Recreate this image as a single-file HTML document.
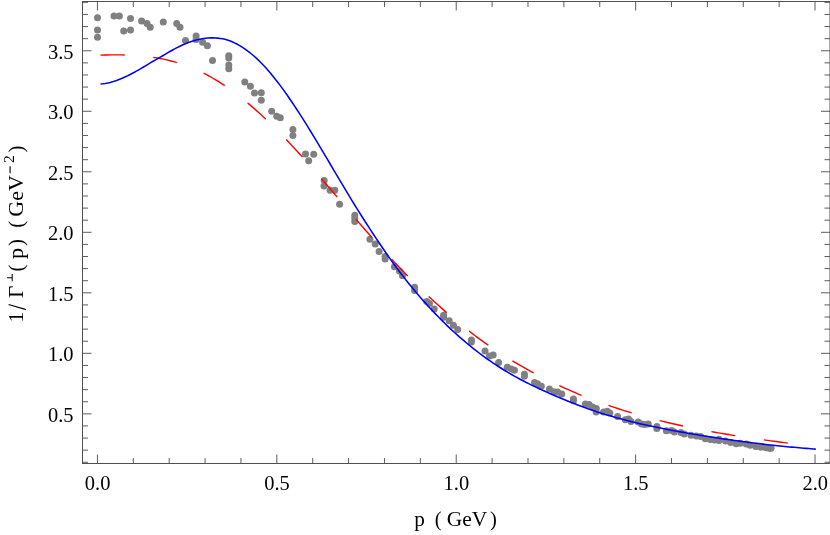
<!DOCTYPE html><html><head><meta charset="utf-8"><title>plot</title><style>html,body{margin:0;padding:0;background:#fff}svg{display:block;will-change:transform}text{font-family:"Liberation Serif",serif;fill:#000}</style></head><body>
<svg width="830" height="535" viewBox="0 0 830 535">
<rect width="830" height="535" fill="#fff"/>
<g fill="#808080">
<circle cx="97.5" cy="17.7" r="3.5"/>
<circle cx="97.5" cy="29.9" r="3.5"/>
<circle cx="97.5" cy="37.3" r="3.5"/>
<circle cx="114.0" cy="16.0" r="3.5"/>
<circle cx="119.4" cy="16.0" r="3.5"/>
<circle cx="123.7" cy="30.9" r="3.5"/>
<circle cx="130.5" cy="30.0" r="3.5"/>
<circle cx="130.5" cy="18.5" r="3.5"/>
<circle cx="141.6" cy="21.1" r="3.5"/>
<circle cx="147.0" cy="23.6" r="3.5"/>
<circle cx="150.2" cy="27.3" r="3.5"/>
<circle cx="163.3" cy="22.0" r="3.5"/>
<circle cx="176.7" cy="23.4" r="3.5"/>
<circle cx="180.0" cy="27.2" r="3.5"/>
<circle cx="185.5" cy="40.4" r="3.5"/>
<circle cx="196.1" cy="36.0" r="3.5"/>
<circle cx="196.1" cy="39.6" r="3.5"/>
<circle cx="202.6" cy="42.3" r="3.5"/>
<circle cx="207.4" cy="45.7" r="3.5"/>
<circle cx="212.5" cy="60.5" r="3.5"/>
<circle cx="228.8" cy="55.7" r="3.5"/>
<circle cx="228.8" cy="58.0" r="3.5"/>
<circle cx="228.8" cy="65.0" r="3.5"/>
<circle cx="228.8" cy="68.7" r="3.5"/>
<circle cx="244.8" cy="82.1" r="3.5"/>
<circle cx="250.4" cy="86.2" r="3.5"/>
<circle cx="254.5" cy="93.0" r="3.5"/>
<circle cx="261.3" cy="92.8" r="3.5"/>
<circle cx="261.3" cy="100.3" r="3.5"/>
<circle cx="271.7" cy="111.2" r="3.5"/>
<circle cx="276.8" cy="116.3" r="3.5"/>
<circle cx="280.3" cy="117.7" r="3.5"/>
<circle cx="292.9" cy="129.4" r="3.5"/>
<circle cx="292.9" cy="135.5" r="3.5"/>
<circle cx="305.5" cy="153.9" r="3.5"/>
<circle cx="313.7" cy="154.3" r="3.5"/>
<circle cx="308.7" cy="160.8" r="3.5"/>
<circle cx="324.2" cy="180.6" r="3.5"/>
<circle cx="324.0" cy="186.1" r="3.5"/>
<circle cx="330.1" cy="190.3" r="3.5"/>
<circle cx="334.8" cy="190.3" r="3.5"/>
<circle cx="339.6" cy="204.2" r="3.5"/>
<circle cx="354.8" cy="215.2" r="3.5"/>
<circle cx="354.8" cy="218.3" r="3.5"/>
<circle cx="354.8" cy="221.5" r="3.5"/>
<circle cx="369.9" cy="239.2" r="3.5"/>
<circle cx="375.2" cy="243.9" r="3.5"/>
<circle cx="379.1" cy="251.4" r="3.5"/>
<circle cx="385.1" cy="256.5" r="3.5"/>
<circle cx="385.1" cy="259.0" r="3.5"/>
<circle cx="394.4" cy="266.7" r="3.5"/>
<circle cx="399.5" cy="271.0" r="3.5"/>
<circle cx="402.5" cy="275.8" r="3.5"/>
<circle cx="414.6" cy="287.3" r="3.5"/>
<circle cx="414.6" cy="290.5" r="3.5"/>
<circle cx="426.8" cy="301.6" r="3.5"/>
<circle cx="429.5" cy="303.4" r="3.5"/>
<circle cx="434.2" cy="308.9" r="3.5"/>
<circle cx="443.6" cy="315.2" r="3.5"/>
<circle cx="443.6" cy="317.2" r="3.5"/>
<circle cx="449.2" cy="320.7" r="3.5"/>
<circle cx="453.4" cy="325.3" r="3.5"/>
<circle cx="457.7" cy="329.5" r="3.5"/>
<circle cx="471.4" cy="340.0" r="3.5"/>
<circle cx="471.4" cy="341.9" r="3.5"/>
<circle cx="485.0" cy="351.1" r="3.5"/>
<circle cx="489.5" cy="356.1" r="3.5"/>
<circle cx="493.2" cy="355.0" r="3.5"/>
<circle cx="498.6" cy="362.5" r="3.5"/>
<circle cx="507.2" cy="367.2" r="3.5"/>
<circle cx="511.3" cy="368.9" r="3.5"/>
<circle cx="514.5" cy="370.3" r="3.5"/>
<circle cx="524.4" cy="374.2" r="3.5"/>
<circle cx="524.4" cy="376.3" r="3.5"/>
<circle cx="534.5" cy="382.4" r="3.5"/>
<circle cx="537.5" cy="383.7" r="3.5"/>
<circle cx="541.3" cy="386.2" r="3.5"/>
<circle cx="549.4" cy="389.1" r="3.5"/>
<circle cx="553.9" cy="391.7" r="3.5"/>
<circle cx="557.6" cy="392.0" r="3.5"/>
<circle cx="561.8" cy="393.9" r="3.5"/>
<circle cx="573.4" cy="399.0" r="3.5"/>
<circle cx="573.4" cy="400.8" r="3.5"/>
<circle cx="585.4" cy="404.1" r="3.5"/>
<circle cx="589.1" cy="404.6" r="3.5"/>
<circle cx="592.5" cy="407.1" r="3.5"/>
<circle cx="596.3" cy="408.4" r="3.5"/>
<circle cx="596.1" cy="412.1" r="3.5"/>
<circle cx="603.5" cy="412.1" r="3.5"/>
<circle cx="607.3" cy="411.3" r="3.5"/>
<circle cx="609.8" cy="413.0" r="3.5"/>
<circle cx="617.6" cy="416.4" r="3.5"/>
<circle cx="625.3" cy="419.7" r="3.5"/>
<circle cx="628.5" cy="419.0" r="3.5"/>
<circle cx="631.0" cy="421.6" r="3.5"/>
<circle cx="638.2" cy="422.0" r="3.5"/>
<circle cx="641.6" cy="424.1" r="3.5"/>
<circle cx="644.9" cy="424.5" r="3.5"/>
<circle cx="648.3" cy="424.1" r="3.5"/>
<circle cx="656.9" cy="426.5" r="3.5"/>
<circle cx="656.9" cy="428.5" r="3.5"/>
<circle cx="666.4" cy="430.8" r="3.5"/>
<circle cx="671.5" cy="430.4" r="3.5"/>
<circle cx="674.4" cy="432.1" r="3.5"/>
<circle cx="680.9" cy="432.6" r="3.5"/>
<circle cx="684.3" cy="434.1" r="3.5"/>
<circle cx="691.0" cy="435.3" r="3.5"/>
<circle cx="696.4" cy="436.1" r="3.5"/>
<circle cx="700.7" cy="436.6" r="3.5"/>
<circle cx="705.3" cy="438.7" r="3.5"/>
<circle cx="710.4" cy="439.5" r="3.5"/>
<circle cx="714.6" cy="439.9" r="3.5"/>
<circle cx="719.0" cy="439.2" r="3.5"/>
<circle cx="719.0" cy="440.6" r="3.5"/>
<circle cx="725.5" cy="440.9" r="3.5"/>
<circle cx="730.6" cy="442.5" r="3.5"/>
<circle cx="736.1" cy="443.7" r="3.5"/>
<circle cx="740.3" cy="443.3" r="3.5"/>
<circle cx="746.2" cy="444.1" r="3.5"/>
<circle cx="750.2" cy="445.3" r="3.5"/>
<circle cx="755.9" cy="446.5" r="3.5"/>
<circle cx="761.0" cy="447.2" r="3.5"/>
<circle cx="766.0" cy="447.8" r="3.5"/>
<circle cx="769.4" cy="448.2" r="3.5"/>
<circle cx="771.1" cy="448.2" r="3.5"/>
</g>
<g fill="none" stroke="#ff0000" stroke-width="1.4">
<path d="M100.50 55.15 L103.96 55.04 L107.41 54.96 L110.87 54.90 L114.33 54.87 L117.79 54.88 L121.24 54.91 L124.70 54.99"/>
<path d="M153.20 57.38 L156.59 57.92 L159.97 58.52 L163.36 59.18 L166.74 59.92 L170.13 60.73 L173.51 61.61 L176.90 62.56"/>
<path d="M203.60 73.09 L206.61 74.65 L209.63 76.28 L212.64 77.99 L215.66 79.78 L218.67 81.63 L221.69 83.56 L224.70 85.56"/>
<path d="M247.60 102.93 L250.20 105.12 L252.80 107.36 L255.40 109.64 L258.00 111.96 L260.60 114.33 L263.20 116.73 L265.80 119.16"/>
<path d="M286.20 139.50 L288.53 141.95 L290.86 144.42 L293.19 146.91 L295.51 149.43 L297.84 151.97 L300.17 154.52 L302.50 157.10"/>
<path d="M321.50 178.74 L323.73 181.33 L325.96 183.93 L328.19 186.54 L330.41 189.15 L332.64 191.77 L334.87 194.39 L337.10 197.01"/>
<path d="M356.00 219.21 L358.26 221.84 L360.51 224.46 L362.77 227.07 L365.03 229.67 L367.29 232.25 L369.54 234.83 L371.80 237.38"/>
<path d="M391.60 259.16 L393.91 261.63 L396.23 264.07 L398.54 266.50 L400.86 268.91 L403.17 271.31 L405.49 273.68 L407.80 276.04"/>
<path d="M428.70 296.44 L431.26 298.83 L433.81 301.19 L436.37 303.52 L438.93 305.83 L441.49 308.12 L444.04 310.38 L446.60 312.61"/>
<path d="M469.00 331.03 L471.77 333.16 L474.54 335.25 L477.31 337.32 L480.09 339.35 L482.86 341.35 L485.63 343.32 L488.40 345.26"/>
<path d="M512.40 360.83 L515.44 362.66 L518.49 364.45 L521.53 366.21 L524.57 367.94 L527.61 369.64 L530.66 371.31 L533.70 372.96"/>
<path d="M559.30 385.68 L562.49 387.14 L565.67 388.57 L568.86 389.97 L572.04 391.35 L575.23 392.71 L578.41 394.04 L581.60 395.34"/>
<path d="M608.50 405.43 L611.81 406.57 L615.13 407.68 L618.44 408.77 L621.76 409.83 L625.07 410.88 L628.39 411.90 L631.70 412.90"/>
<path d="M659.70 420.58 L663.01 421.40 L666.33 422.20 L669.64 422.99 L672.96 423.76 L676.27 424.51 L679.59 425.25 L682.90 425.98"/>
<path d="M711.40 431.62 L714.80 432.23 L718.20 432.83 L721.60 433.42 L725.00 433.99 L728.40 434.56 L731.80 435.11 L735.20 435.66"/>
<path d="M763.90 439.90 L767.31 440.37 L770.73 440.84 L774.14 441.30 L777.56 441.75 L780.97 442.20 L784.39 442.65 L787.80 443.09"/>
</g>
<path d="M100.50 83.93 L102.89 83.72 L105.28 83.40 L107.68 82.99 L110.07 82.49 L112.46 81.87 L114.85 81.10 L117.25 80.24 L119.64 79.31 L122.03 78.32 L124.42 77.26 L126.82 76.14 L129.21 74.96 L131.60 73.74 L133.99 72.48 L136.38 71.17 L138.78 69.81 L141.17 68.41 L143.56 66.99 L145.95 65.55 L148.35 64.09 L150.74 62.65 L153.13 61.26 L155.52 59.87 L157.92 58.49 L160.31 57.12 L162.70 55.73 L165.09 54.31 L167.48 52.91 L169.88 51.54 L172.27 50.20 L174.66 48.91 L177.05 47.65 L179.45 46.45 L181.84 45.31 L184.23 44.22 L186.62 43.24 L189.02 42.34 L191.41 41.52 L193.80 40.78 L196.19 40.08 L198.58 39.46 L200.98 38.93 L203.37 38.51 L205.76 38.18 L208.15 37.97 L210.55 37.87 L212.94 37.84 L215.33 37.92 L217.72 38.11 L220.12 38.41 L222.51 38.79 L224.90 39.30 L227.29 39.93 L229.68 40.79 L232.08 41.76 L234.47 42.85 L236.86 44.06 L239.25 45.38 L241.65 46.82 L244.04 48.38 L246.43 50.05 L248.82 51.84 L251.22 53.74 L253.61 55.76 L256.00 57.90 L258.39 60.15 L260.78 62.51 L263.18 64.99 L265.57 67.57 L267.96 70.26 L270.35 73.05 L272.75 75.94 L275.14 78.91 L277.53 81.98 L279.92 85.13 L282.32 88.36 L284.71 91.66 L287.10 95.04 L289.49 98.48 L291.88 102.00 L294.28 105.57 L296.67 109.20 L299.06 112.88 L301.45 116.61 L303.85 120.39 L306.24 124.21 L308.63 128.08 L311.02 131.97 L313.42 135.90 L315.81 139.86 L318.20 143.84 L320.59 147.84 L322.98 151.86 L325.38 155.89 L327.77 159.94 L330.16 163.99 L332.55 168.04 L334.95 172.09 L337.34 176.13 L339.73 180.17 L342.12 184.19 L344.52 188.20 L346.91 192.19 L349.30 196.15 L351.69 200.09 L354.08 204.00 L356.48 207.87 L358.87 211.71 L361.26 215.50 L363.65 219.27 L366.05 223.00 L368.44 226.70 L370.83 230.37 L373.22 234.02 L375.62 237.64 L378.01 241.23 L380.40 244.79 L382.79 248.31 L385.18 251.80 L387.58 255.24 L389.97 258.63 L392.36 261.97 L394.75 265.26 L397.15 268.49 L399.54 271.67 L401.93 274.81 L404.32 277.89 L406.72 280.93 L409.11 283.91 L411.50 286.85 L413.89 289.75 L416.28 292.60 L418.68 295.40 L421.07 298.16 L423.46 300.88 L425.85 303.56 L428.25 306.19 L430.64 308.79 L433.03 311.34 L435.42 313.85 L437.82 316.32 L440.21 318.76 L442.60 321.15 L444.99 323.50 L447.38 325.82 L449.78 328.09 L452.17 330.33 L454.56 332.53 L456.95 334.69 L459.35 336.82 L461.74 338.90 L464.13 340.96 L466.52 342.97 L468.92 344.95 L471.31 346.89 L473.70 348.80 L476.09 350.67 L478.48 352.51 L480.88 354.31 L483.27 356.08 L485.66 357.81 L488.05 359.51 L490.45 361.18 L492.84 362.82 L495.23 364.42 L497.62 365.99 L500.02 367.52 L502.41 369.03 L504.80 370.50 L507.19 371.95 L509.58 373.36 L511.98 374.74 L514.37 376.09 L516.76 377.42 L519.15 378.72 L521.55 379.99 L523.94 381.24 L526.33 382.47 L528.72 383.67 L531.12 384.85 L533.51 386.02 L535.90 387.16 L538.29 388.28 L540.68 389.39 L543.08 390.49 L545.47 391.56 L547.86 392.63 L550.25 393.68 L552.65 394.72 L555.04 395.75 L557.43 396.77 L559.82 397.78 L562.22 398.77 L564.61 399.76 L567.00 400.74 L569.39 401.70 L571.78 402.65 L574.18 403.59 L576.57 404.52 L578.96 405.43 L581.35 406.33 L583.75 407.21 L586.14 408.07 L588.53 408.92 L590.92 409.76 L593.32 410.57 L595.71 411.38 L598.10 412.16 L600.49 412.93 L602.88 413.69 L605.28 414.43 L607.67 415.15 L610.06 415.86 L612.45 416.56 L614.85 417.24 L617.24 417.91 L619.63 418.57 L622.02 419.22 L624.42 419.85 L626.81 420.47 L629.20 421.08 L631.59 421.68 L633.98 422.26 L636.38 422.84 L638.77 423.40 L641.16 423.96 L643.55 424.50 L645.95 425.04 L648.34 425.57 L650.73 426.08 L653.12 426.59 L655.52 427.09 L657.91 427.58 L660.30 428.07 L662.69 428.55 L665.08 429.02 L667.48 429.48 L669.87 429.94 L672.26 430.39 L674.65 430.83 L677.05 431.27 L679.44 431.70 L681.83 432.13 L684.22 432.56 L686.62 432.98 L689.01 433.39 L691.40 433.80 L693.79 434.21 L696.18 434.61 L698.58 435.01 L700.97 435.41 L703.36 435.80 L705.75 436.18 L708.15 436.56 L710.54 436.94 L712.93 437.31 L715.32 437.68 L717.72 438.04 L720.11 438.40 L722.50 438.76 L724.89 439.11 L727.28 439.46 L729.68 439.80 L732.07 440.14 L734.46 440.47 L736.85 440.80 L739.25 441.12 L741.64 441.44 L744.03 441.76 L746.42 442.07 L748.82 442.38 L751.21 442.68 L753.60 442.98 L755.99 443.27 L758.38 443.56 L760.78 443.84 L763.17 444.12 L765.56 444.40 L767.95 444.67 L770.35 444.93 L772.74 445.19 L775.13 445.45 L777.52 445.70 L779.92 445.95 L782.31 446.19 L784.70 446.43 L787.09 446.67 L789.48 446.90 L791.88 447.12 L794.27 447.34 L796.66 447.56 L799.05 447.77 L801.45 447.97 L803.84 448.17 L806.23 448.37 L808.62 448.56 L811.02 448.75 L813.41 448.93 L815.80 449.11" fill="none" stroke="#0000ff" stroke-width="1.55"/>
<path d="M97.43 463.50 V454.50 M97.43 1.50 V10.50 M133.31 463.50 V458.00 M133.31 1.50 V7.00 M169.19 463.50 V458.00 M169.19 1.50 V7.00 M205.07 463.50 V458.00 M205.07 1.50 V7.00 M240.95 463.50 V458.00 M240.95 1.50 V7.00 M276.83 463.50 V454.50 M276.83 1.50 V10.50 M312.71 463.50 V458.00 M312.71 1.50 V7.00 M348.59 463.50 V458.00 M348.59 1.50 V7.00 M384.47 463.50 V458.00 M384.47 1.50 V7.00 M420.35 463.50 V458.00 M420.35 1.50 V7.00 M456.23 463.50 V454.50 M456.23 1.50 V10.50 M492.11 463.50 V458.00 M492.11 1.50 V7.00 M527.99 463.50 V458.00 M527.99 1.50 V7.00 M563.87 463.50 V458.00 M563.87 1.50 V7.00 M599.75 463.50 V458.00 M599.75 1.50 V7.00 M635.63 463.50 V454.50 M635.63 1.50 V10.50 M671.51 463.50 V458.00 M671.51 1.50 V7.00 M707.39 463.50 V458.00 M707.39 1.50 V7.00 M743.27 463.50 V458.00 M743.27 1.50 V7.00 M779.15 463.50 V458.00 M779.15 1.50 V7.00 M815.03 463.50 V454.50 M815.03 1.50 V10.50 M82.50 462.26 H88.00 M830.00 462.26 H824.50 M82.50 450.16 H88.00 M830.00 450.16 H824.50 M82.50 438.06 H88.00 M830.00 438.06 H824.50 M82.50 425.95 H88.00 M830.00 425.95 H824.50 M82.50 413.85 H91.50 M830.00 413.85 H821.00 M82.50 401.75 H88.00 M830.00 401.75 H824.50 M82.50 389.64 H88.00 M830.00 389.64 H824.50 M82.50 377.54 H88.00 M830.00 377.54 H824.50 M82.50 365.44 H88.00 M830.00 365.44 H824.50 M82.50 353.34 H91.50 M830.00 353.34 H821.00 M82.50 341.23 H88.00 M830.00 341.23 H824.50 M82.50 329.13 H88.00 M830.00 329.13 H824.50 M82.50 317.03 H88.00 M830.00 317.03 H824.50 M82.50 304.92 H88.00 M830.00 304.92 H824.50 M82.50 292.82 H91.50 M830.00 292.82 H821.00 M82.50 280.72 H88.00 M830.00 280.72 H824.50 M82.50 268.61 H88.00 M830.00 268.61 H824.50 M82.50 256.51 H88.00 M830.00 256.51 H824.50 M82.50 244.41 H88.00 M830.00 244.41 H824.50 M82.50 232.31 H91.50 M830.00 232.31 H821.00 M82.50 220.20 H88.00 M830.00 220.20 H824.50 M82.50 208.10 H88.00 M830.00 208.10 H824.50 M82.50 196.00 H88.00 M830.00 196.00 H824.50 M82.50 183.89 H88.00 M830.00 183.89 H824.50 M82.50 171.79 H91.50 M830.00 171.79 H821.00 M82.50 159.69 H88.00 M830.00 159.69 H824.50 M82.50 147.58 H88.00 M830.00 147.58 H824.50 M82.50 135.48 H88.00 M830.00 135.48 H824.50 M82.50 123.38 H88.00 M830.00 123.38 H824.50 M82.50 111.28 H91.50 M830.00 111.28 H821.00 M82.50 99.17 H88.00 M830.00 99.17 H824.50 M82.50 87.07 H88.00 M830.00 87.07 H824.50 M82.50 74.97 H88.00 M830.00 74.97 H824.50 M82.50 62.86 H88.00 M830.00 62.86 H824.50 M82.50 50.76 H91.50 M830.00 50.76 H821.00 M82.50 38.66 H88.00 M830.00 38.66 H824.50 M82.50 26.55 H88.00 M830.00 26.55 H824.50 M82.50 14.45 H88.00 M830.00 14.45 H824.50 M82.50 2.35 H88.00 M830.00 2.35 H824.50" fill="none" stroke="#5c5c5c" stroke-width="1"/>
<rect x="82.50" y="1.50" width="747.50" height="462.00" fill="none" stroke="#505050" stroke-width="1"/>
<text transform="translate(97.6,489.6) scale(0.935,1)" font-size="21.9" text-anchor="middle">0.0</text>
<text transform="translate(277.0,489.6) scale(0.935,1)" font-size="21.9" text-anchor="middle">0.5</text>
<text transform="translate(456.4,489.6) scale(0.935,1)" font-size="21.9" text-anchor="middle">1.0</text>
<text transform="translate(635.8,489.6) scale(0.935,1)" font-size="21.9" text-anchor="middle">1.5</text>
<text transform="translate(815.2,489.6) scale(0.935,1)" font-size="21.9" text-anchor="middle">2.0</text>
<text transform="translate(73.6,421.8) scale(0.935,1)" font-size="21.9" text-anchor="end">0.5</text>
<text transform="translate(73.6,361.3) scale(0.935,1)" font-size="21.9" text-anchor="end">1.0</text>
<text transform="translate(73.6,300.8) scale(0.935,1)" font-size="21.9" text-anchor="end">1.5</text>
<text transform="translate(73.6,240.3) scale(0.935,1)" font-size="21.9" text-anchor="end">2.0</text>
<text transform="translate(73.6,179.7) scale(0.935,1)" font-size="21.9" text-anchor="end">2.5</text>
<text transform="translate(73.6,119.2) scale(0.935,1)" font-size="21.9" text-anchor="end">3.0</text>
<text transform="translate(73.6,58.7) scale(0.935,1)" font-size="21.9" text-anchor="end">3.5</text>
<g transform="translate(414.4,525.5)"><text x="-0.1" y="0.0" font-size="21.4" textLength="10.6" lengthAdjust="spacingAndGlyphs">p</text><text x="20.3" y="0.0" font-size="20.6">(</text><text x="32.4" y="0.0" font-size="21.4" textLength="40.5" lengthAdjust="spacingAndGlyphs">GeV</text><text x="75.6" y="0.0" font-size="20.6">)</text></g>
<g transform="translate(23.4,321) rotate(-90)"><text x="-1.5" y="0.0" font-size="21.4">1</text><path d="M11.4 2.7 L16.5 -14.8" stroke="#000" stroke-width="1.15" fill="none"/><text x="23.0" y="0.0" font-size="21.4">&#915;</text><path d="M39.7 -11.2 H46.9 M43.3 -11.2 V-16.3" stroke="#000" stroke-width="1.05" fill="none"/><text x="49.6" y="0.0" font-size="20.6">(</text><text x="61.9" y="0.0" font-size="21.4" textLength="11.2" lengthAdjust="spacingAndGlyphs">p</text><text x="74.9" y="0.0" font-size="20.6">)</text><text x="93.2" y="0.0" font-size="20.6">(</text><text x="104.3" y="0.0" font-size="21.4" textLength="41.5" lengthAdjust="spacingAndGlyphs">GeV</text><path d="M147.8 -13.3 H154.7" stroke="#000" stroke-width="1.1" fill="none"/><text x="158.0" y="-9.7" font-size="15.5">2</text><text x="168.4" y="0.0" font-size="20.6">)</text></g>
</svg></body></html>
